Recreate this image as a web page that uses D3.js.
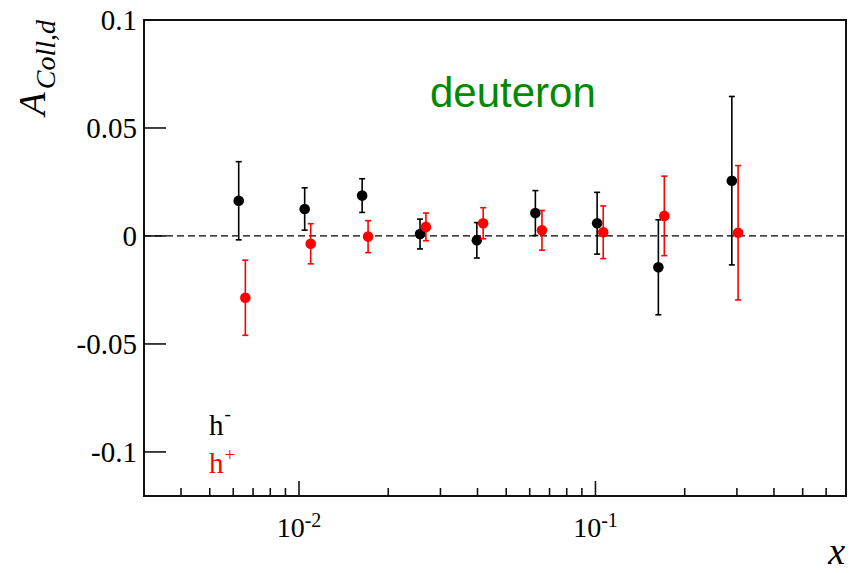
<!DOCTYPE html>
<html>
<head>
<meta charset="utf-8">
<script src="https://cdn.jsdelivr.net/npm/d3@7/dist/d3.min.js"></script>
<style>
  html, body { margin: 0; padding: 0; background: #fff; }
  svg { display: block; }
  text { font-family: "Liberation Serif", "Times New Roman", serif; }
  text.sans { font-family: "Liberation Sans", Arial, sans-serif; }
</style>
</head>
<body>
<svg id="chart" width="859" height="573"></svg>
<script>
// ---- Data ----
const hMinusX   = [0.00626, 0.01045, 0.01633, 0.0256, 0.0398, 0.0627, 0.1013, 0.163, 0.2884];
const hMinusY   = [0.0163, 0.0125, 0.0187, 0.0009, -0.0020, 0.0106, 0.0059, -0.0145, 0.0256];
const hMinusErr = [0.0181, 0.0098, 0.0078, 0.0069, 0.0082, 0.0104, 0.0143, 0.0220, 0.0390];

const hPlusX    = [0.00659, 0.01095, 0.0171, 0.0268, 0.0418, 0.0660, 0.1062, 0.1707, 0.3028];
const hPlusY    = [-0.0286, -0.0036, -0.0003, 0.0042, 0.0059, 0.0026, 0.0017, 0.0093, 0.0015];
const hPlusErr  = [0.0174, 0.0093, 0.0074, 0.0064, 0.0072, 0.0092, 0.0122, 0.0184, 0.0311];

const yTicks      = [0.1, 0.05, 0, -0.05, -0.1];
const yTickLabels = ["0.1", "0.05", "0", "-0.05", "-0.1"];
const xMajorTicks = [0.01, 0.1];
const xMajorExp   = ["-2", "-1"];
const xMinorTicks = [0.003,0.004,0.005,0.006,0.007,0.008,0.009,
                     0.02,0.03,0.04,0.05,0.06,0.07,0.08,0.09,
                     0.2,0.3,0.4,0.5,0.6,0.7];
const xDomain = [0.003, 0.7];
const yDomain = [-0.1204, 0.1];

// ---- Layout ----
const L = 144, R = 846, T = 20, B = 496;
const svg = d3.select("#chart");
const x = d3.scaleLog().domain(xDomain).range([L, R]);
const y = d3.scaleLinear().domain(yDomain).range([B, T]);

// zero dashed line
svg.append("line")
  .attr("x1", L).attr("x2", R)
  .attr("y1", y(0)).attr("y2", y(0))
  .attr("stroke", "#000").attr("stroke-width", 1.3)
  .attr("stroke-dasharray", "7,4");

// frame
svg.append("rect")
  .attr("x", L).attr("y", T).attr("width", R - L).attr("height", B - T)
  .attr("fill", "none").attr("stroke", "#111").attr("stroke-width", 2);

// y ticks (inward)
svg.selectAll(".ytick").data(yTicks).enter().append("line")
  .attr("x1", L).attr("x2", L + 22)
  .attr("y1", d => y(d)).attr("y2", d => y(d))
  .attr("stroke", "#111").attr("stroke-width", 1.6);
svg.selectAll(".ylab").data(yTicks).enter().append("text")
  .attr("x", L - 7).attr("y", d => y(d)).attr("dy", 9.6)
  .attr("text-anchor", "end").attr("font-size", 29)
  .text((d, i) => yTickLabels[i]);

// x ticks (inward)
svg.selectAll(".xmin").data(xMinorTicks).enter().append("line")
  .attr("x1", d => x(d)).attr("x2", d => x(d))
  .attr("y1", B).attr("y2", B - 8)
  .attr("stroke", "#111").attr("stroke-width", 1.6);
svg.selectAll(".xmaj").data(xMajorTicks).enter().append("line")
  .attr("x1", d => x(d)).attr("x2", d => x(d))
  .attr("y1", B).attr("y2", B - 15)
  .attr("stroke", "#111").attr("stroke-width", 1.6);
const xl = svg.selectAll(".xlab").data(xMajorTicks).enter().append("text")
  .attr("x", d => x(d)).attr("y", 537)
  .attr("text-anchor", "middle").attr("font-size", 28);
xl.append("tspan").text("10");
xl.append("tspan").attr("dy", -10).attr("font-size", 20).text((d, i) => xMajorExp[i]);

// axis titles
svg.append("text")
  .attr("x", 845).attr("y", 564)
  .attr("text-anchor", "end").attr("font-size", 38).attr("font-style", "italic")
  .text("x");

const yt = svg.append("text")
  .attr("transform", `translate(45,${T}) rotate(-90)`)
  .attr("text-anchor", "end").attr("font-style", "italic");
yt.append("tspan").attr("font-size", 38).text("A");
yt.append("tspan").attr("font-size", 28).attr("dy", 10).attr("dx", 3).text("Coll,d");

// "deuteron"
svg.append("text")
  .attr("class", "sans")
  .attr("x", 430).attr("y", 106.5)
  .attr("font-size", 42).attr("fill", "#008a00")
  .text("deuteron");

// legend
const lg1 = svg.append("text").attr("x", 209).attr("y", 435).attr("font-size", 29).attr("fill", "#000");
lg1.append("tspan").text("h");
lg1.append("tspan").attr("dy", -15).attr("dx", 1).attr("font-size", 19).text("-");
const lg2 = svg.append("text").attr("x", 209).attr("y", 473).attr("font-size", 29).attr("fill", "#ff0000");
lg2.append("tspan").text("h");
lg2.append("tspan").attr("dy", -12).attr("dx", 1).attr("font-size", 19).text("+");

// series drawing
function drawSeries(xs, ys, es, color) {
  const g = svg.append("g");
  const data = xs.map((v, i) => ({ x: v, y: ys[i], e: es[i] }));
  g.selectAll(".eb").data(data).enter().append("line")
    .attr("x1", d => x(d.x)).attr("x2", d => x(d.x))
    .attr("y1", d => y(d.y + d.e)).attr("y2", d => y(d.y - d.e))
    .attr("stroke", color).attr("stroke-width", 1.6);
  ["top", "bot"].forEach(k => {
    g.selectAll(".cap" + k).data(data).enter().append("line")
      .attr("x1", d => x(d.x) - 3).attr("x2", d => x(d.x) + 3)
      .attr("y1", d => y(k === "top" ? d.y + d.e : d.y - d.e))
      .attr("y2", d => y(k === "top" ? d.y + d.e : d.y - d.e))
      .attr("stroke", color).attr("stroke-width", 1.6);
  });
  g.selectAll(".pt").data(data).enter().append("circle")
    .attr("cx", d => x(d.x)).attr("cy", d => y(d.y))
    .attr("r", 5.3).attr("fill", color);
}
drawSeries(hMinusX, hMinusY, hMinusErr, "#000");
drawSeries(hPlusX, hPlusY, hPlusErr, "#ff0000");
</script>
</body>
</html>
